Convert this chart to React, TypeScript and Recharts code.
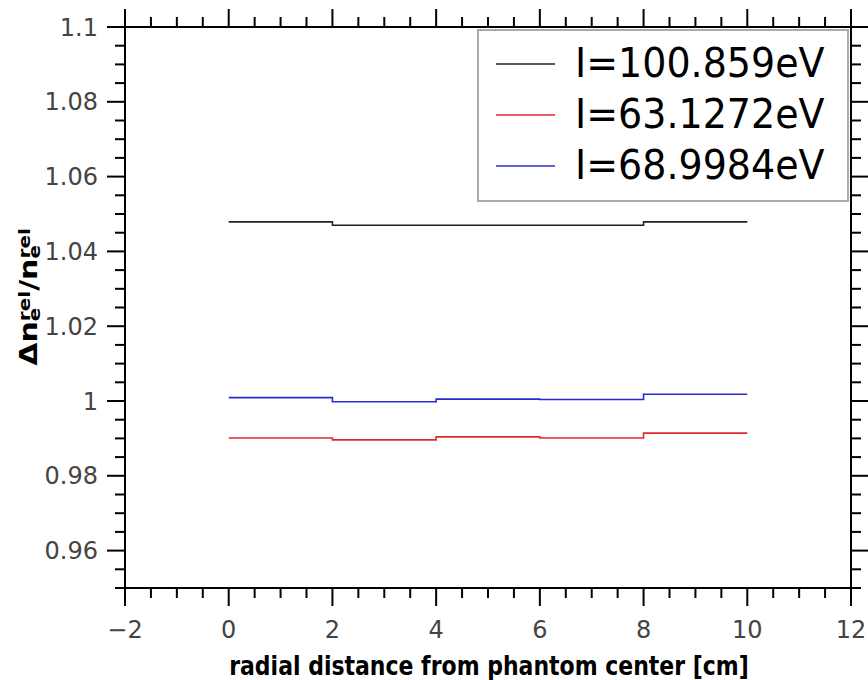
import React from 'react';
import { LineChart, Line, XAxis, YAxis, Legend } from 'recharts';

// bin edges (cm) and step values; last value repeats so the step reaches 10 cm
const xEdges = [0, 2, 4, 6, 8, 10];
const blackVals = [1.0479, 1.047, 1.047, 1.047, 1.0479, 1.0479];
const redVals = [0.9901, 0.9896, 0.9904, 0.9901, 0.9914, 0.9914];
const blueVals = [1.0009, 0.9998, 1.0005, 1.0004, 1.0018, 1.0018];

const seriesKeys = ['black', 'red', 'blue'];
const seriesNames = ['I=100.859eV', 'I=63.1272eV', 'I=68.9984eV'];
const seriesColors = ['#222222', '#e0282c', '#2a2ad4'];

const xMajor = [-2, 0, 2, 4, 6, 8, 10, 12];
const xTickLabels = ['\u22122', '0', '2', '4', '6', '8', '10', '12'];
const xTicks = [-2, -1.5, -1, -0.5, 0, 0.5, 1, 1.5, 2, 2.5, 3, 3.5, 4, 4.5, 5, 5.5, 6, 6.5, 7, 7.5, 8, 8.5, 9, 9.5, 10, 10.5, 11, 11.5, 12];

const yMajor = [0.96, 0.98, 1, 1.02, 1.04, 1.06, 1.08, 1.1];
const yTickLabels = ['0.96', '0.98', '1', '1.02', '1.04', '1.06', '1.08', '1.1'];
const yTicks = [0.95, 0.955, 0.96, 0.965, 0.97, 0.975, 0.98, 0.985, 0.99, 0.995, 1, 1.005, 1.01, 1.015, 1.02, 1.025, 1.03, 1.035, 1.04, 1.045, 1.05, 1.055, 1.06, 1.065, 1.07, 1.075, 1.08, 1.085, 1.09, 1.095, 1.1];

const data = xEdges.map((x, i) => ({
  x,
  black: blackVals[i],
  red: redVals[i],
  blue: blueVals[i],
}));

const FONT = '"DejaVu Sans", sans-serif';

const makeTick = (side: string, majors: number[], labels: string[] | null) => (props: any) => {
  const { x, y, payload } = props;
  const idx = majors.findIndex((m) => Math.abs(m - payload.value) < 1e-9);
  const len = idx >= 0 ? 18 : 10;
  let x2 = x;
  let y2 = y;
  if (side === 'bottom') y2 = y + len;
  else if (side === 'top') y2 = y - len;
  else if (side === 'left') x2 = x - len;
  else x2 = x + len;
  let label = null;
  if (idx >= 0 && labels) {
    label = side === 'bottom'
      ? <text x={x} y={y + 50} textAnchor="middle" fontFamily={FONT} fontSize={24} fill="#444">{labels[idx]}</text>
      : <text x={x - 27} y={y + 8.5} textAnchor="end" fontFamily={FONT} fontSize={24} fill="#444">{labels[idx]}</text>;
  }
  return (
    <g>
      <line x1={x} y1={y} x2={x2} y2={y2} stroke="#000" strokeWidth={2} />
      {label}
    </g>
  );
};

const renderLegend = () => (
  <div style={{
    width: 372, height: 173, boxSizing: 'border-box', border: '2px solid #aaa',
    background: '#fff', fontFamily: FONT, paddingTop: 7,
  }}>
    {seriesNames.map((name, i) => (
      <div key={name} style={{ display: 'flex', alignItems: 'center', height: 51 }}>
        <svg width={59} height={6} style={{ marginLeft: 17 }}>
          <line x1={0} y1={3} x2={59} y2={3} stroke={seriesColors[i]} strokeWidth={1.6} />
        </svg>
        <span style={{
          marginLeft: 20, fontSize: 38, color: '#000', lineHeight: '51px',
          display: 'inline-block', transform: 'scaleY(1.08)',
        }}>{name}</span>
      </div>
    ))}
  </div>
);

// axis titles drawn over the chart
const Titles = () => (
  <svg width={868} height={680} style={{ position: 'absolute', left: 0, top: 0, pointerEvents: 'none' }}>
    <text transform="translate(489,675) scale(1,1.18)" textAnchor="middle" fontFamily={FONT} fontWeight="bold" fontSize={22} fill="#000">
      radial distance from phantom center [cm]
    </text>
    <text transform="translate(37,297) rotate(-90) scale(1.25,1)" textAnchor="middle" fontFamily={FONT} fontWeight="bold" fontSize={24} fill="#000">
      Δn
      <tspan fontSize={16} dy={3}>e</tspan>
      <tspan fontSize={16} dx={-10.8} dy={-9.7}>rel</tspan>
      <tspan dy={6.7}>/n</tspan>
      <tspan fontSize={16} dy={3}>e</tspan>
      <tspan fontSize={16} dx={-10.8} dy={-9.7}>rel</tspan>
    </text>
  </svg>
);

const axisLine = { stroke: '#000', strokeWidth: 2 };

const App = () => {
  return (
    <div style={{ position: 'absolute', left: 0, top: 0, width: 868, height: 680 }}>
      <LineChart
        width={868}
        height={680}
        data={data}
        margin={{ top: 26, right: 16, bottom: 91, left: 124 }}
      >
        <XAxis
          xAxisId="bottom"
          dataKey="x"
          type="number"
          domain={[-2, 12]}
          ticks={xTicks}
          interval={0}
          height={1}
          tickSize={0}
          tickMargin={0}
          tickLine={false}
          axisLine={axisLine}
          allowDataOverflow
          tick={makeTick('bottom', xMajor, xTickLabels)}
        />
        <XAxis
          xAxisId="top"
          orientation="top"
          dataKey="x"
          type="number"
          domain={[-2, 12]}
          ticks={xTicks}
          interval={0}
          height={1}
          tickSize={0}
          tickMargin={0}
          tickLine={false}
          axisLine={axisLine}
          allowDataOverflow
          tick={makeTick('top', xMajor, null)}
        />
        <YAxis
          yAxisId="left"
          type="number"
          domain={[0.95, 1.1]}
          ticks={yTicks}
          interval={0}
          width={1}
          tickSize={0}
          tickMargin={0}
          tickLine={false}
          axisLine={axisLine}
          allowDataOverflow
          tick={makeTick('left', yMajor, yTickLabels)}
        />
        <YAxis
          yAxisId="right"
          orientation="right"
          type="number"
          domain={[0.95, 1.1]}
          ticks={yTicks}
          interval={0}
          width={1}
          tickSize={0}
          tickMargin={0}
          tickLine={false}
          axisLine={axisLine}
          allowDataOverflow
          tick={makeTick('right', yMajor, null)}
        />
        {seriesKeys.map((k, i) => (
          <Line
            key={k}
            xAxisId="bottom"
            yAxisId="left"
            type="stepAfter"
            dataKey={k}
            name={seriesNames[i]}
            stroke={seriesColors[i]}
            strokeWidth={1.6}
            dot={false}
            activeDot={false}
            isAnimationActive={false}
          />
        ))}
        <Legend
          layout="horizontal"
          verticalAlign="middle"
          align="center"
          content={renderLegend}
          wrapperStyle={{ left: 477, top: 29, width: 372, height: 173 }}
        />
      </LineChart>
      <Titles />
    </div>
  );
};

export default App;
